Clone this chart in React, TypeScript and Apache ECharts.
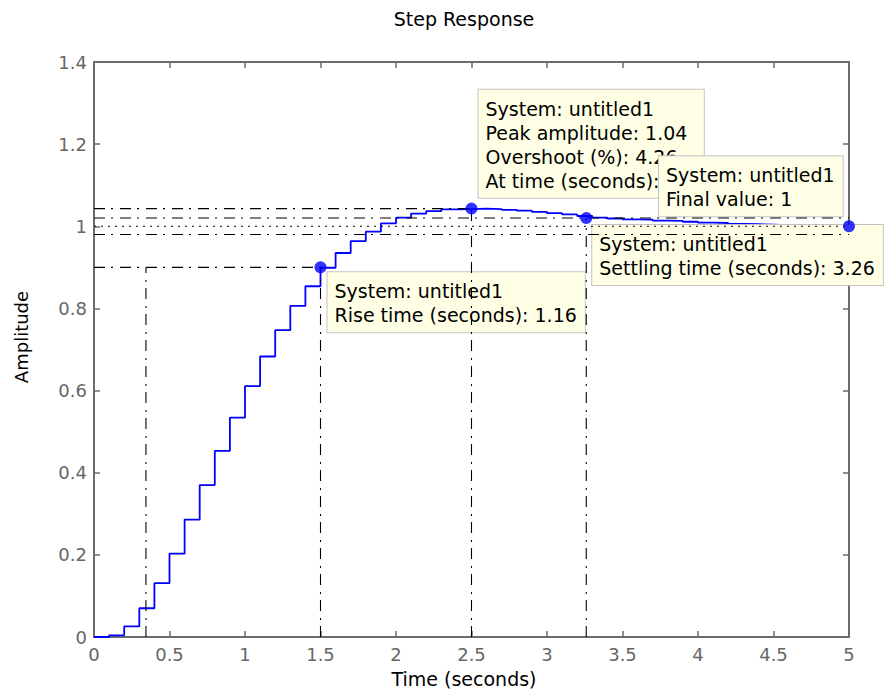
import React, { useEffect, useRef } from "react";
import * as echarts from "echarts";

// ---- data ----
const sampleTime = 0.1; // s, zero-order-hold step response samples
const stepValues = [
  0, 0.004, 0.026, 0.07, 0.131, 0.203, 0.286, 0.37, 0.453, 0.534,
  0.611, 0.683, 0.747, 0.806, 0.854, 0.899, 0.935, 0.964, 0.987, 1.007,
  1.021, 1.031, 1.037, 1.041, 1.042, 1.043, 1.042, 1.04, 1.038, 1.035,
  1.032, 1.029, 1.025, 1.021, 1.019, 1.017, 1.016, 1.014, 1.013, 1.011,
  1.009, 1.008, 1.006, 1.005, 1.004, 1.003, 1.003, 1.002, 1.001, 1.001,
  1.0,
];
const xTicks = { min: 0, max: 5, interval: 0.5 };
const yTicks = { min: 0, max: 1.4, interval: 0.2 };

const riseStart = 0.344;
const riseEnd = 1.5;
const riseLevel = 0.9;
const peakTime = 2.5;
const peakAmplitude = 1.043;
const settleTime = 3.26;
const settleHigh = 1.02;
const settleLow = 0.98;
const finalTime = 5;
const finalValue = 1.0;

const titleText = "Step Response";
const xName = "Time (seconds)";
const yName = "Amplitude";
const riseLabel = ["System: untitled1", "Rise time (seconds): 1.16"];
const peakLabel = [
  "System: untitled1",
  "Peak amplitude: 1.04",
  "Overshoot (%): 4.26",
  "At time (seconds): 2.5",
];
const finalLabel = ["System: untitled1", "Final value: 1"];
const settleLabel = ["System: untitled1", "Settling time (seconds): 3.26"];

const FONT = "DejaVu Sans";

export default function App() {
  const ref = useRef<HTMLDivElement>(null);

  useEffect(() => {
    const chart = echarts.init(ref.current!, null, { renderer: "svg" });
    const axisColor = "#6b6b6b";
    const dashDot = [11, 6, 2, 7];
    const dotted = [2, 5];

    const stepData = stepValues.map((v, i) => [+(i * sampleTime).toFixed(2), v]);

    const refLine = (pts: number[][], type: any) => ({
      type: "line",
      data: pts,
      symbol: "none",
      silent: true,
      z: 4,
      lineStyle: { color: "#000", width: 1.1, type },
    });

    const baseAxisX = {
      type: "value",
      min: xTicks.min,
      max: xTicks.max,
      interval: xTicks.interval,
      splitLine: { show: false },
      axisLine: { show: true, onZero: false, lineStyle: { color: axisColor, width: 2 } },
      axisTick: { show: true, inside: true, length: 6, lineStyle: { color: axisColor, width: 1.5 } },
    };
    const baseAxisY = {
      type: "value",
      min: yTicks.min,
      max: yTicks.max,
      interval: yTicks.interval,
      splitLine: { show: false },
      axisLine: { show: true, onZero: false, lineStyle: { color: axisColor, width: 2 } },
      axisTick: { show: true, inside: true, length: 6, lineStyle: { color: axisColor, width: 1.5 } },
    };
    const labelStyle = { color: "#666", fontFamily: FONT, fontSize: 18 };

    chart.setOption({
      animation: false,
      grid: { left: 94, right: 38, top: 62, bottom: 53, containLabel: false },
      xAxis: [
        { ...baseAxisX, position: "bottom", axisLabel: { ...labelStyle, margin: 8 } },
        { ...baseAxisX, position: "top", axisLabel: { show: false } },
      ],
      yAxis: [
        { ...baseAxisY, position: "left", axisLabel: { ...labelStyle, margin: 7 } },
        { ...baseAxisY, position: "right", axisLabel: { show: false } },
      ],
      series: [
        {
          type: "line",
          data: stepData,
          step: "end",
          symbol: "none",
          z: 2,
          lineStyle: { color: "#0000ff", width: 1.8 },
        },
        refLine([[xTicks.min, peakAmplitude], [peakTime, peakAmplitude]], dashDot),
        refLine([[xTicks.min, settleHigh], [finalTime, settleHigh]], dashDot),
        refLine([[xTicks.min, settleLow], [finalTime, settleLow]], dashDot),
        refLine([[xTicks.min, finalValue], [finalTime, finalValue]], dotted),
        refLine([[xTicks.min, riseLevel], [riseEnd, riseLevel]], dashDot),
        refLine([[riseStart, 0], [riseStart, riseLevel]], dashDot),
        refLine([[riseEnd, 0], [riseEnd, riseLevel]], dashDot),
        refLine([[peakTime, 0], [peakTime, peakAmplitude]], dashDot),
        refLine([[settleTime, 0], [settleTime, settleHigh]], dashDot),
        {
          type: "scatter",
          data: [
            [riseEnd, riseLevel],
            [peakTime, peakAmplitude],
            [settleTime, settleHigh],
            [finalTime, finalValue],
          ],
          symbol: "circle",
          symbolSize: 12,
          z: 6,
          silent: true,
          itemStyle: { color: "#0000ff" },
        },
      ],
    });

    const px = (t: number, v: number) =>
      chart.convertToPixel({ seriesIndex: 0 }, [t, v]) as number[];

    const box = (lines: string[], x: number, y: number, z: number) => ({
      type: "text",
      x,
      y,
      z,
      silent: true,
      style: {
        text: lines.join("\n"),
        fontFamily: FONT,
        fontSize: 19,
        font: `19px "${FONT}"`,
        fill: "#000",
        align: "left",
        textAlign: "left",
        verticalAlign: "top",
        textVerticalAlign: "top",
        lineHeight: 24,
        backgroundColor: "#ffffe6",
        borderColor: "#c4c4c4",
        borderWidth: 1,
        padding: [7, 8, 5, 7],
      },
    });

    const plainText = (text: string, x: number, y: number, size: number, rotation = 0) => ({
      type: "text",
      x,
      y,
      rotation,
      z: 10,
      style: {
        text,
        fontFamily: FONT,
        fontSize: size,
        font: `${size}px "${FONT}"`,
        fill: "#000",
        align: "center",
        textAlign: "center",
        verticalAlign: "middle",
        textVerticalAlign: "middle",
      },
    });

    const riseP = px(riseEnd, riseLevel);
    const peakP = px(peakTime, peakAmplitude);
    const settleP = px(settleTime, settleHigh);
    const finalP = px(finalTime, finalValue);

    chart.setOption({
      graphic: [
        plainText(titleText, 464, 19, 19),
        plainText(xName, 464, 679, 19),
        plainText(yName, 21, 337, 18, Math.PI / 2),
        box(riseLabel, riseP[0] + 7, riseP[1] + 5, 3),
        box(peakLabel, peakP[0] + 7, peakP[1] - 119, 3),
        box(finalLabel, finalP[0] - 190, finalP[1] - 70, 3),
        box(settleLabel, settleP[0] + 6, settleP[1] + 7, 3),
      ],
    });

    return () => chart.dispose();
  }, []);

  return (
    <div
      ref={ref}
      style={{ position: "absolute", left: 0, top: 0, width: 887, height: 690 }}
    />
  );
}
